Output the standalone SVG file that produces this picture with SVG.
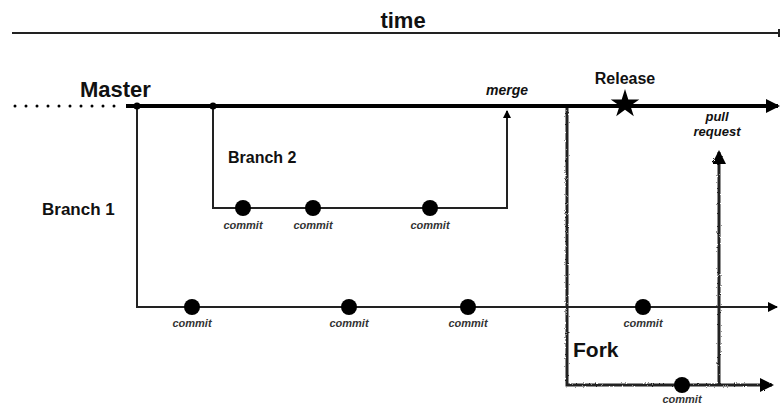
<svg xmlns="http://www.w3.org/2000/svg" width="780" height="405" viewBox="0 0 780 405">
<style>
text{font-family:"Liberation Sans",Arial,sans-serif;fill:#111}
.b{font-weight:bold}
.c{font-weight:bold;font-style:italic;font-size:11px;text-anchor:middle;fill:#333}
.ln{stroke:#222;fill:none;stroke-width:2}
.rough{stroke:#222;fill:none;stroke-width:3;filter:url(#sk)}
.dot{fill:#000}
</style>
<defs>
<marker id="ah" markerWidth="10" markerHeight="10" refX="9" refY="5" orient="auto" markerUnits="userSpaceOnUse"><path d="M0,0 L10,5 L0,10 Z" fill="#000"/></marker>
<marker id="ahs" markerWidth="8" markerHeight="8" refX="7" refY="4" orient="auto" markerUnits="userSpaceOnUse"><path d="M0,0 L8,4 L0,8 Z" fill="#000"/></marker>
<marker id="ahb" markerWidth="14" markerHeight="14" refX="12" refY="7" orient="auto" markerUnits="userSpaceOnUse"><path d="M0,0 L14,7 L0,14 Z" fill="#000"/></marker>
<filter id="sk" filterUnits="userSpaceOnUse" x="0" y="0" width="780" height="405"><feTurbulence type="fractalNoise" baseFrequency="0.9" numOctaves="2" result="n"/><feDisplacementMap in="SourceGraphic" in2="n" scale="2.5"/></filter>
</defs>
<g id="time">
<line x1="12" y1="33" x2="779" y2="33" stroke="#222" stroke-width="2"/>
<line x1="779" y1="29" x2="779" y2="37" stroke="#222" stroke-width="2"/>
<text class="b" x="403" y="28" font-size="22" text-anchor="middle">time</text>
</g>
<g id="connectors">
<line x1="15" y1="106" x2="122" y2="106" stroke="#000" stroke-width="3" stroke-linecap="round" stroke-dasharray="0 11"/>
<line x1="126" y1="106" x2="778" y2="106" stroke="#000" stroke-width="4" marker-end="url(#ahb)"/>
<path class="ln" d="M137,106 V307 H777" marker-end="url(#ah)"/>
<path class="ln" d="M213,106 V208 H507 V111" marker-end="url(#ahs)"/>
<path class="rough" d="M567,108 V385 H772" marker-end="url(#ahb)"/>
<path class="rough" d="M719,385 V152" marker-end="url(#ahb)"/>
</g>
<g id="master">
<text class="b" x="80" y="97" font-size="22">Master</text>
<circle class="dot" cx="137" cy="106" r="3.5"/>
<circle class="dot" cx="213" cy="106" r="3.5"/>
</g>
<g id="merge"><text x="507" y="95" font-size="14" font-weight="bold" font-style="italic" text-anchor="middle">merge</text></g>
<g id="release">
<text class="b" x="625" y="84" font-size="16" text-anchor="middle">Release</text>
<polygon points="625,89 628.3,99.4 639.3,99.4 630.4,105.8 633.8,116.3 625,109.8 616.2,116.3 619.6,105.8 610.7,99.4 621.7,99.4" fill="#000"/>
</g>
<g id="pull-request">
<text x="717" y="121" font-size="13" font-weight="bold" font-style="italic" text-anchor="middle">pull</text>
<text x="717" y="136" font-size="13" font-weight="bold" font-style="italic" text-anchor="middle">request</text>
</g>
<g id="branch1">
<text class="b" x="42" y="215" font-size="17">Branch 1</text>
<circle class="dot" cx="192" cy="307" r="8"/><text class="c" x="192" y="327">commit</text>
<circle class="dot" cx="349" cy="307" r="8"/><text class="c" x="349" y="327">commit</text>
<circle class="dot" cx="468" cy="307" r="8"/><text class="c" x="468" y="327">commit</text>
<circle class="dot" cx="643" cy="307" r="8"/><text class="c" x="643" y="327">commit</text>
</g>
<g id="branch2">
<text class="b" x="228" y="163" font-size="16">Branch 2</text>
<circle class="dot" cx="243" cy="208" r="8"/><text class="c" x="243" y="229">commit</text>
<circle class="dot" cx="313" cy="208" r="8"/><text class="c" x="313" y="229">commit</text>
<circle class="dot" cx="430" cy="208" r="8"/><text class="c" x="430" y="229">commit</text>
</g>
<g id="fork">
<text class="b" x="573" y="357" font-size="21">Fork</text>
<circle class="dot" cx="682" cy="385" r="8"/><text class="c" x="682" y="403" font-size="10">commit</text>
</g>
</svg>
